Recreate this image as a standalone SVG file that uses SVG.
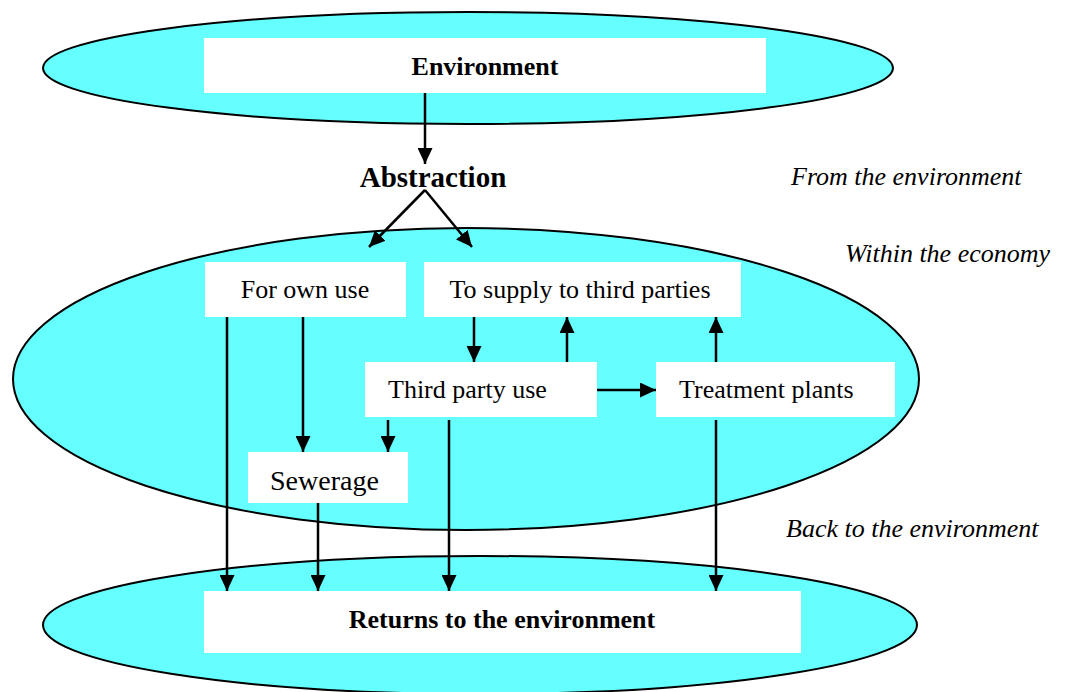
<svg xmlns="http://www.w3.org/2000/svg" width="1065" height="692" viewBox="0 0 1065 692">
<style>
.ell{fill:#66FFFF;stroke:#000;stroke-width:2}
.box{fill:#fff;stroke:none}
.t{font-family:"Liberation Serif","Times New Roman",serif;font-size:26px;fill:#000}
.b{font-weight:bold}
.i{font-style:italic}
.c{stroke:#000;stroke-width:2.5;fill:none;marker-end:url(#ah)}
</style>
<defs>
<marker id="ah" viewBox="0 0 16 15" refX="16" refY="7.5" markerWidth="16" markerHeight="15" markerUnits="userSpaceOnUse" orient="auto">
<path d="M0,0 L16,7.5 L0,15 z" fill="#000"/>
</marker>
</defs>
<rect width="1065" height="692" fill="#fff"/>
<g id="ellipses">
<ellipse class="ell" cx="468" cy="68" rx="425" ry="56"/>
<ellipse class="ell" cx="466" cy="379" rx="453" ry="151"/>
<ellipse class="ell" cx="480" cy="625" rx="437" ry="69"/>
</g>
<g id="environment">
<rect class="box" x="204" y="38" width="562" height="55"/>
<text class="t b" x="485" y="75" text-anchor="middle">Environment</text>
</g>
<g id="abstraction">
<text class="t b" x="433" y="187" text-anchor="middle" style="font-size:29px">Abstraction</text>
</g>
<g id="own-use">
<rect class="box" x="205" y="262" width="201" height="55"/>
<text class="t" x="305" y="298" text-anchor="middle">For own use</text>
</g>
<g id="supply">
<rect class="box" x="424" y="262" width="317" height="55"/>
<text class="t" x="580" y="298" text-anchor="middle">To supply to third parties</text>
</g>
<g id="third-party-use">
<rect class="box" x="365" y="362" width="232" height="55"/>
<text class="t" x="388" y="398">Third party use</text>
</g>
<g id="treatment">
<rect class="box" x="656" y="362" width="239" height="55"/>
<text class="t" x="679" y="398">Treatment plants</text>
</g>
<g id="sewerage">
<rect class="box" x="248" y="452" width="160" height="51"/>
<text class="t" x="270" y="490" style="font-size:28px">Sewerage</text>
</g>
<g id="returns">
<rect class="box" x="204" y="591" width="597" height="62"/>
<text class="t b" x="502" y="628" text-anchor="middle">Returns to the environment</text>
</g>
<g id="labels">
<text class="t i" x="791" y="185">From the environment</text>
<text class="t i" x="845" y="262">Within the economy</text>
<text class="t i" x="786" y="537">Back to the environment</text>
</g>
<g id="connectors">
<line class="c" x1="425" y1="93" x2="425" y2="164"/>
<line class="c" x1="425" y1="190" x2="369" y2="247"/>
<line class="c" x1="425" y1="190" x2="472" y2="247"/>
<line class="c" x1="227" y1="317" x2="227" y2="591"/>
<line class="c" x1="303" y1="317" x2="303" y2="452"/>
<line class="c" x1="388" y1="420" x2="388" y2="452"/>
<line class="c" x1="318" y1="503" x2="318" y2="591"/>
<line class="c" x1="449" y1="420" x2="449" y2="591"/>
<line class="c" x1="716" y1="420" x2="716" y2="591"/>
<line class="c" x1="474" y1="317" x2="474" y2="362"/>
<line class="c" x1="567" y1="362" x2="567" y2="317"/>
<line class="c" x1="716" y1="362" x2="716" y2="317"/>
<line class="c" x1="597" y1="390" x2="656" y2="390"/>
</g>
</svg>
